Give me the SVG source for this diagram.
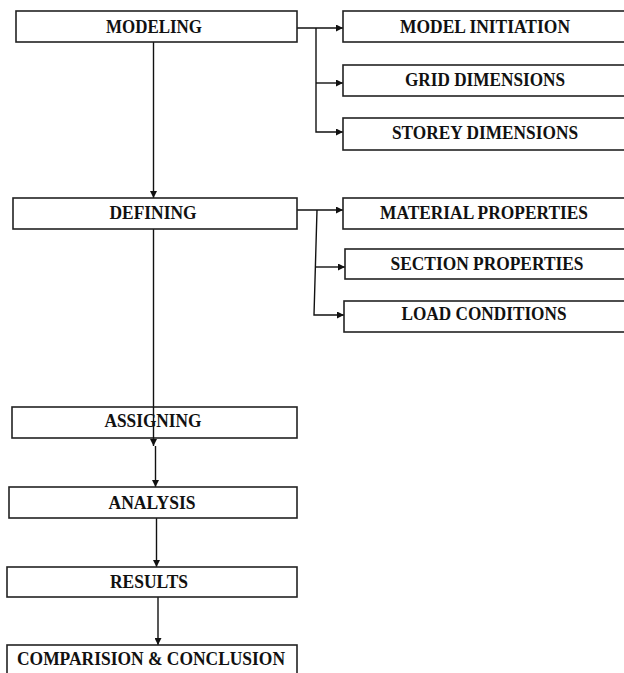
<svg xmlns="http://www.w3.org/2000/svg" width="624" height="673" viewBox="0 0 624 673">
<style>
.box{fill:#fff;stroke:#222;stroke-width:1.6}
.lbl{font-family:"Liberation Serif","Times New Roman",serif;font-weight:bold;font-size:19.5px;fill:#111;text-anchor:middle}
.con{fill:none;stroke:#111;stroke-width:1.4}
</style>
<defs>
<marker id="ah" viewBox="0 0 10 10" refX="10" refY="5" markerWidth="7" markerHeight="7" markerUnits="userSpaceOnUse" orient="auto">
<path d="M0,0 L10,5 L0,10 z" fill="#111"/>
</marker>
</defs>
<rect width="624" height="673" fill="#fff"/>
<g id="connectors">
<line class="con" x1="153.5" y1="42" x2="153.5" y2="198" marker-end="url(#ah)"/>
<line class="con" x1="153.5" y1="229" x2="153.5" y2="446" marker-end="url(#ah)"/>
<line class="con" x1="155.5" y1="446" x2="155.5" y2="487" marker-end="url(#ah)"/>
<line class="con" x1="156.5" y1="518" x2="156.5" y2="567" marker-end="url(#ah)"/>
<line class="con" x1="158" y1="597" x2="158" y2="645" marker-end="url(#ah)"/>
<line class="con" x1="297" y1="28" x2="343" y2="28" marker-end="url(#ah)"/>
<polyline class="con" points="316,28 316,132 343,132" marker-end="url(#ah)"/>
<line class="con" x1="316" y1="83" x2="343" y2="83" marker-end="url(#ah)"/>
<line class="con" x1="297" y1="210" x2="343" y2="210" marker-end="url(#ah)"/>
<polyline class="con" points="317,210 314,315 344,315" marker-end="url(#ah)"/>
<line class="con" x1="315.5" y1="267" x2="345" y2="267" marker-end="url(#ah)"/>
</g>
<g id="modeling"><rect class="box" x="16" y="11" width="281" height="31"/><text class="lbl" x="154" y="33" textLength="96" lengthAdjust="spacingAndGlyphs">MODELING</text></g>
<g id="model-initiation"><rect class="box" x="343" y="11" width="290" height="31"/><text class="lbl" x="485" y="33" textLength="170" lengthAdjust="spacingAndGlyphs">MODEL INITIATION</text></g>
<g id="grid-dimensions"><rect class="box" x="343" y="65" width="290" height="31"/><text class="lbl" x="485" y="86" textLength="160" lengthAdjust="spacingAndGlyphs">GRID DIMENSIONS</text></g>
<g id="storey-dimensions"><rect class="box" x="343" y="118" width="290" height="32"/><text class="lbl" x="485" y="139" textLength="186" lengthAdjust="spacingAndGlyphs">STOREY DIMENSIONS</text></g>
<g id="defining"><rect class="box" x="13" y="198" width="284" height="31"/><text class="lbl" x="153" y="219" textLength="87" lengthAdjust="spacingAndGlyphs">DEFINING</text></g>
<g id="material-properties"><rect class="box" x="343" y="198" width="290" height="31"/><text class="lbl" x="484" y="219" textLength="208" lengthAdjust="spacingAndGlyphs">MATERIAL PROPERTIES</text></g>
<g id="section-properties"><rect class="box" x="345" y="249" width="290" height="30"/><text class="lbl" x="487" y="270" textLength="193" lengthAdjust="spacingAndGlyphs">SECTION PROPERTIES</text></g>
<g id="load-conditions"><rect class="box" x="344" y="301" width="290" height="31"/><text class="lbl" x="484" y="320" textLength="165" lengthAdjust="spacingAndGlyphs">LOAD CONDITIONS</text></g>
<g id="assigning"><rect class="box" x="12" y="407" width="285" height="31"/><text class="lbl" x="153" y="427" textLength="97" lengthAdjust="spacingAndGlyphs">ASSIGNING</text></g>
<g id="analysis"><rect class="box" x="9" y="487" width="288" height="31"/><text class="lbl" x="152" y="509" textLength="87" lengthAdjust="spacingAndGlyphs">ANALYSIS</text></g>
<g id="results"><rect class="box" x="7" y="567" width="290" height="30"/><text class="lbl" x="149" y="588" textLength="78" lengthAdjust="spacingAndGlyphs">RESULTS</text></g>
<g id="comparision-conclusion"><rect class="box" x="7" y="645" width="290" height="40"/><text class="lbl" x="151" y="665" textLength="268" lengthAdjust="spacingAndGlyphs">COMPARISION &amp; CONCLUSION</text></g>
<line class="con" x1="153.5" y1="407" x2="153.5" y2="438"/>
</svg>
